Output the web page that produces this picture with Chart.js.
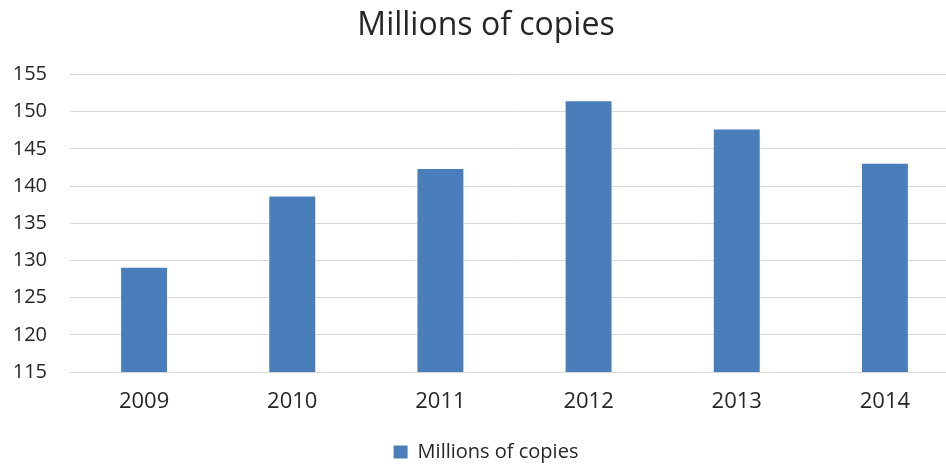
<!DOCTYPE html>
<html>
<head>
<meta charset="utf-8">
<script src="https://cdn.jsdelivr.net/npm/chart.js@4"></script>
<style>
  html, body { margin: 0; padding: 0; background: #fff; overflow: hidden; }
  #wrap { width: 985px; height: 466px; }
</style>
</head>
<body>
<div id="wrap"><canvas id="copies" width="985" height="466"></canvas></div>
<script>
// values
const years = ['2009', '2010', '2011', '2012', '2013', '2014'];
const copies = [129.0, 138.6, 142.3, 151.4, 147.6, 143.0];
const seriesName = 'Millions of copies';
const yMin = 115, yMax = 155, yStep = 5;

const textColor = '#262626';
const font = "'Open Sans', 'Noto Sans', sans-serif";

let ctx = document.getElementById('copies').getContext('2d');

let barChart = new Chart(ctx, {
  type: 'bar',
  data: {
    labels: years,
    datasets: [{
      label: seriesName,
      data: copies,
      backgroundColor: '#4a7ebb',
      borderWidth: 0,
      categoryPercentage: 1,
      barPercentage: 0.31
    }]
  },
  options: {
    responsive: false,
    animation: false,
    devicePixelRatio: 1,
    layout: { padding: { left: 13, right: 26, top: 0, bottom: -6 } },
    plugins: {
      title: {
        display: true,
        text: seriesName,
        color: textColor,
        font: { family: font, size: 32, weight: 'normal' },
        padding: { top: 7, bottom: 29 }
      },
      legend: {
        position: 'bottom',
        labels: {
          color: textColor,
          font: { family: font, size: 20 },
          boxWidth: 14,
          boxHeight: 13,
          padding: 2
        }
      },
      tooltip: { enabled: false }
    },
    scales: {
      x: {
        grid: { display: false, drawTicks: false },
        border: { display: true, color: '#d9d9d9', width: 1 },
        ticks: { color: textColor, font: { family: font, size: 22 }, padding: 17 },
        afterFit: function (scale) { scale.height = 68; }
      },
      y: {
        min: yMin,
        max: yMax,
        grid: { color: '#d9d9d9', lineWidth: 1, drawTicks: false },
        border: { display: false },
        ticks: { stepSize: yStep, color: textColor, font: { family: font, size: 20 }, padding: 23 },
        afterFit: function (scale) { scale.width = 57; }
      }
    }
  }
});
</script>
</body>
</html>
